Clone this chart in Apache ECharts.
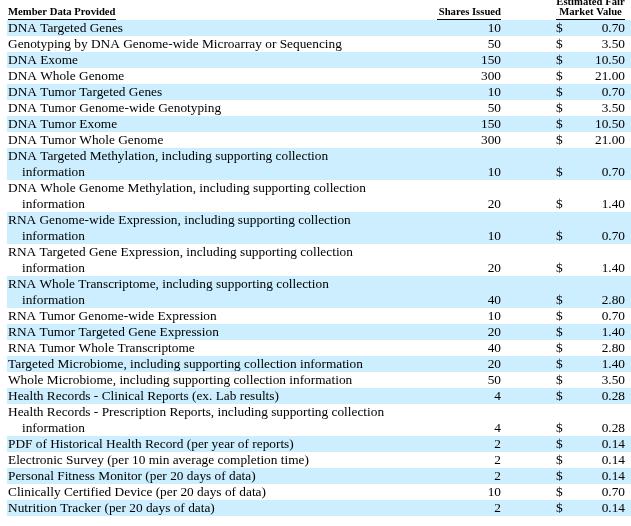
<!DOCTYPE html>
<html><head><meta charset="utf-8">
<script src="https://cdn.jsdelivr.net/npm/echarts@6/dist/echarts.min.js"></script>
<style>html,body{margin:0;padding:0;background:#fff}#c{width:631px;height:526px}</style>
</head><body><div id="c"></div>
<script>
var items = [
  'DNA Targeted Genes',
  'Genotyping by DNA Genome-wide Microarray or Sequencing',
  'DNA Exome',
  'DNA Whole Genome',
  'DNA Tumor Targeted Genes',
  'DNA Tumor Genome-wide Genotyping',
  'DNA Tumor Exome',
  'DNA Tumor Whole Genome',
  'DNA Targeted Methylation, including supporting collection\ninformation',
  'DNA Whole Genome Methylation, including supporting collection\ninformation',
  'RNA Genome-wide Expression, including supporting collection\ninformation',
  'RNA Targeted Gene Expression, including supporting collection\ninformation',
  'RNA Whole Transcriptome, including supporting collection\ninformation',
  'RNA Tumor Genome-wide Expression',
  'RNA Tumor Targeted Gene Expression',
  'RNA Tumor Whole Transcriptome',
  'Targeted Microbiome, including supporting collection information',
  'Whole Microbiome, including supporting collection information',
  'Health Records - Clinical Reports (ex. Lab results)',
  'Health Records - Prescription Reports, including supporting collection\ninformation',
  'PDF of Historical Health Record (per year of reports)',
  'Electronic Survey (per 10 min average completion time)',
  'Personal Fitness Monitor (per 20 days of data)',
  'Clinically Certified Device (per 20 days of data)',
  'Nutrition Tracker (per 20 days of data)'
];
var sharesIssued = [10, 50, 150, 300, 10, 50, 150, 300, 10, 20, 10, 20, 40, 10, 20, 40, 20, 50, 4, 4, 2, 2, 2, 10, 2];
var fairValue = [0.70, 3.50, 10.50, 21.00, 0.70, 3.50, 10.50, 21.00, 0.70, 1.40, 0.70, 1.40, 2.80, 0.70, 1.40, 2.80, 1.40, 3.50, 0.28, 0.28, 0.14, 0.14, 0.14, 0.70, 0.14];
var headers = ['Member Data Provided', 'Shares Issued', 'Estimated Fair\nMarket Value'];

var data = [];
var line = 0;
for (var i = 0; i < items.length; i++) {
  var n = items[i].split('\n').length;
  data.push([line, n, sharesIssued[i], fairValue[i], i]);
  line += n;
}
var totalLines = line;

var FONT = '13.33px "Liberation Serif", "Times New Roman", serif';
var HFONT = 'bold 10.67px "Liberation Serif", "Times New Roman", serif';

function renderItem(params, api) {
  var start = api.value(0), n = api.value(1), idx = api.value(4);
  var tl = api.coord([7, start]);
  var br = api.coord([631, start + n]);
  var children = [];
  if (idx % 2 === 0) {
    children.push({type: 'rect', shape: {x: tl[0], y: tl[1], width: br[0] - tl[0], height: br[1] - tl[1]},
      style: {fill: '#cceeff'}});
  }
  var parts = items[idx].split('\n');
  for (var k = 0; k < parts.length; k++) {
    var p = api.coord([k === 0 ? 8 : 22, start + k + 0.5]);
    children.push({type: 'text', x: p[0], y: p[1], style: {text: parts[k], font: FONT, fill: '#000',
      textAlign: 'left', textVerticalAlign: 'middle'}});
  }
  var last = start + n - 0.5;
  var ps = api.coord([501, last]);
  children.push({type: 'text', x: ps[0], y: ps[1], style: {text: String(api.value(2)), font: FONT, fill: '#000',
    textAlign: 'right', textVerticalAlign: 'middle'}});
  var pd = api.coord([556, last]);
  children.push({type: 'text', x: pd[0], y: pd[1], style: {text: '$', font: FONT, fill: '#000',
    textAlign: 'left', textVerticalAlign: 'middle'}});
  var pv = api.coord([625, last]);
  children.push({type: 'text', x: pv[0], y: pv[1], style: {text: api.value(3).toFixed(2), font: FONT, fill: '#000',
    textAlign: 'right', textVerticalAlign: 'middle'}});
  return {type: 'group', children: children};
}

var chart = echarts.init(document.getElementById('c'), null, {renderer: 'canvas'});
chart.setOption({
  animation: false,
  grid: {left: 0, right: 0, top: 0, bottom: 10},
  xAxis: {type: 'value', min: 0, max: 631, show: false},
  yAxis: {type: 'value', min: -1.25, max: totalLines, inverse: true, show: false},
  graphic: [
    {type: 'text', left: 8, top: 7, style: {text: headers[0], font: HFONT, fill: '#000'}},
    {type: 'line', shape: {x1: 8, y1: 19.5, x2: 116, y2: 19.5}, style: {stroke: '#000', lineWidth: 1}},
    {type: 'text', x: 501, y: 17.5, style: {text: headers[1], font: HFONT, fill: '#000', textAlign: 'right', textVerticalAlign: 'bottom'}},
    {type: 'line', shape: {x1: 437, y1: 19.5, x2: 501, y2: 19.5}, style: {stroke: '#000', lineWidth: 1}},
    {type: 'text', x: 590.5, y: 17.5, style: {text: headers[2], font: HFONT, fill: '#000', textAlign: 'center', textVerticalAlign: 'bottom', lineHeight: 10}},
    {type: 'line', shape: {x1: 556, y1: 19.5, x2: 625, y2: 19.5}, style: {stroke: '#000', lineWidth: 1}}
  ],
  series: [{
    type: 'custom',
    renderItem: renderItem,
    clip: false,
    encode: {x: -1, y: 0},
    data: data
  }]
});
</script></body></html>
